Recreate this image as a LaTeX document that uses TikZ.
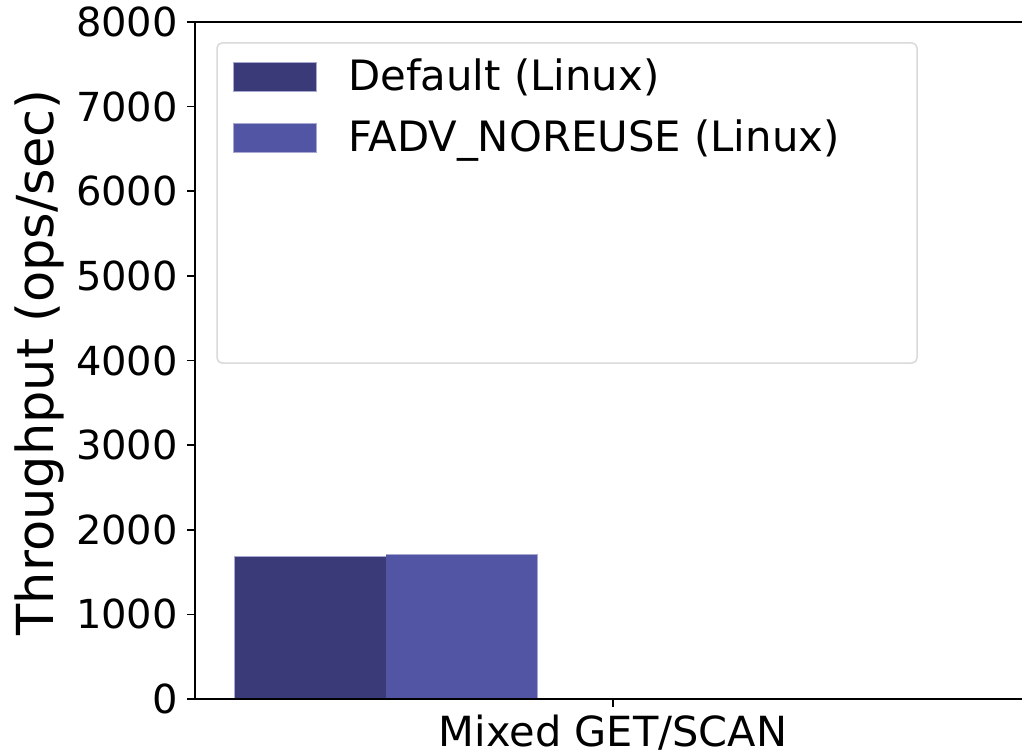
\documentclass[tikz,border=0pt]{standalone}
\usepackage{fontspec}
\setmainfont{DejaVu Sans}
\definecolor{barDefault}{HTML}{3A3A78}
\definecolor{barNoreuse}{HTML}{5254A4}
\definecolor{barEdge}{HTML}{A8A8D0}
\definecolor{legendEdge}{HTML}{DADADA}
\tikzset{
  spine/.style={line width=2pt, black, line cap=rect},
  tickmark/.style={line width=1.6pt, black},
  ticklabel/.style={font=\fontsize{40}{48}\selectfont, inner sep=0pt},
  catlabel/.style={font=\fontsize{41.5}{50}\selectfont, inner sep=0pt},
  axislabel/.style={font=\fontsize{51}{60}\selectfont, inner sep=0pt},
  legendtext/.style={font=\fontsize{41.8}{50}\selectfont, inner sep=0pt, anchor=base west},
  barbox/.style={draw=barEdge, line width=0.6pt},
}
\begin{document}
\begin{tikzpicture}[x=1pt, y=-1pt]
  \useasboundingbox[fill=white] (0,0) rectangle (1022,751);

  % bars
  \fill[barDefault] (234,556) rectangle (386,699);
  \draw[barbox] (234,699) -- (234,556) -- (386,556);
  \fill[barNoreuse] (386,554.5) rectangle (537,699);
  \draw[barbox] (386,554.5) -- (537,554.5) -- (537,699);

  % spines
  \coordinate (tl) at (195,22);
  \coordinate (bl) at (195,699);
  \coordinate (tr) at (1022,22);
  \coordinate (br) at (1022,699);
  \draw[spine] (tr) -- (tl) -- (bl) -- (br);

  % y ticks and labels
  \foreach \v [count=\i from 0] in {0,1000,...,8000} {
    \pgfmathsetmacro{\yy}{699-\i*84.625}
    \coordinate (yt\i) at (195,\yy);
    \draw[tickmark] (yt\i) -- ++(-8,0);
    \node[ticklabel, anchor=east] (yl\i) at (178,\yy) {\v};
  }

  % x tick and labels
  \coordinate (xt) at (613,699);
  \draw[tickmark] (xt) -- ++(0,8);
  \node[catlabel, anchor=base] (xlab) at (613,746) {Mixed GET/SCAN};
  \node[axislabel, rotate=90, anchor=base] (ylab) at (53,362.5) {Throughput (ops/sec)};

  % legend
  \draw[legendEdge, line width=1.5pt, fill=white, rounded corners=5pt]
    (217,43) rectangle (917,363);
  \fill[barDefault] (233,62) rectangle (316,91);
  \draw[barbox] (233,62) rectangle (316,91);
  \fill[barNoreuse] (233,123) rectangle (316,152);
  \draw[barbox] (233,123) rectangle (316,152);
  \node[legendtext] (leg1) at (348,90.5) {Default (Linux)};
  \node[legendtext] (leg2) at (348,151.5) {FADV\_NOREUSE (Linux)};
\end{tikzpicture}
\end{document}
